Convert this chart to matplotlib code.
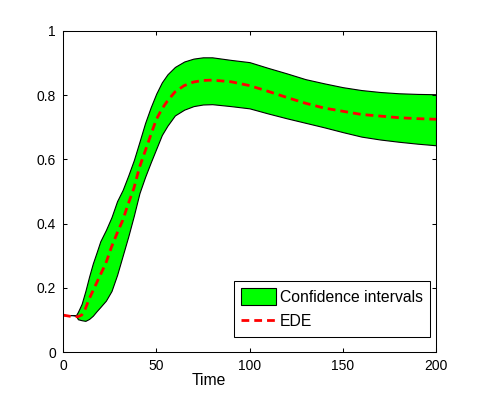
import matplotlib
matplotlib.use("Agg")
from matplotlib import pyplot as plt

# Values
time = [0, 5, 7, 8, 10, 12, 14, 16, 18, 20, 23, 26, 29, 32, 35, 38, 41, 44,
        47, 50, 53, 56, 60, 65, 70, 75, 80, 90, 100, 110, 120, 130, 140,
        150, 160, 170, 180, 190, 200]
ede = [0.115, 0.11, 0.11, 0.11, 0.115, 0.135, 0.165, 0.19, 0.215, 0.24,
       0.277, 0.327, 0.37, 0.41, 0.462, 0.51, 0.575, 0.625, 0.675, 0.724,
       0.757, 0.782, 0.81, 0.83, 0.841, 0.846, 0.847, 0.842, 0.83, 0.812,
       0.793, 0.775, 0.76, 0.75, 0.74, 0.735, 0.73, 0.727, 0.725]
upper = [0.115, 0.115, 0.115, 0.125, 0.15, 0.19, 0.235, 0.276, 0.31, 0.345,
         0.38, 0.42, 0.47, 0.505, 0.55, 0.598, 0.655, 0.713, 0.762, 0.805,
         0.84, 0.865, 0.888, 0.905, 0.914, 0.918, 0.918, 0.91, 0.903,
         0.885, 0.868, 0.85, 0.837, 0.825, 0.816, 0.81, 0.806, 0.804, 0.803]
lower = [0.115, 0.115, 0.113, 0.102, 0.099, 0.097, 0.103, 0.113, 0.127,
         0.14, 0.16, 0.19, 0.24, 0.3, 0.36, 0.425, 0.495, 0.545, 0.59,
         0.633, 0.676, 0.705, 0.737, 0.755, 0.766, 0.771, 0.772, 0.766,
         0.759, 0.743, 0.728, 0.714, 0.70, 0.685, 0.671, 0.662, 0.655,
         0.649, 0.644]

xticks = [0, 50, 100, 150, 200]
yticks = [0, 0.2, 0.4, 0.6, 0.8, 1]
ytick_labels = ["0", "0.2", "0.4", "0.6", "0.8", "1"]


def run():
    plt.rcParams["font.family"] = ["Liberation Sans", "DejaVu Sans"]
    plt.rcParams["font.size"] = 10

    fig = plt.figure(figsize=(4.82, 3.95), dpi=100)
    ax = fig.add_axes([63 / 482, 1 - 352 / 395, 373 / 482, 321 / 395])

    # band first, then the dashed estimate on top
    ax.fill_between(time, lower, upper, facecolor="#00ff00",
                    edgecolor="black", linewidth=0.8,
                    label="Confidence intervals")
    ax.plot(time, ede, color="#ff0000", linewidth=2.0,
            dashes=(2.8, 1.8), label="EDE")

    ax.set_xlim(0, 200)
    ax.set_ylim(0, 1)
    ax.set_xticks(xticks)
    ax.set_xticklabels([str(v) for v in xticks])
    ax.set_yticks(yticks)
    ax.set_yticklabels(ytick_labels)

    ax.tick_params(direction="in", length=2.6, width=0.75,
                   top=True, right=True, labelsize=10, pad=5)
    for spine in ax.spines.values():
        spine.set_linewidth(0.75)

    ax.set_xlabel("Time", fontsize=11.3)
    ax.xaxis.set_label_coords(0.39, -0.064)

    leg = ax.legend(loc="lower right", bbox_to_anchor=(0.984, 0.048),
                    borderaxespad=0, fancybox=False, framealpha=1,
                    edgecolor="black", handlelength=2.23, handleheight=1.27,
                    labelspacing=0.5, handletextpad=0.25,
                    borderpad=0.45, fontsize=11.3)
    leg.get_frame().set_linewidth(0.75)

    fig.savefig("out.png", dpi=100)


run()
